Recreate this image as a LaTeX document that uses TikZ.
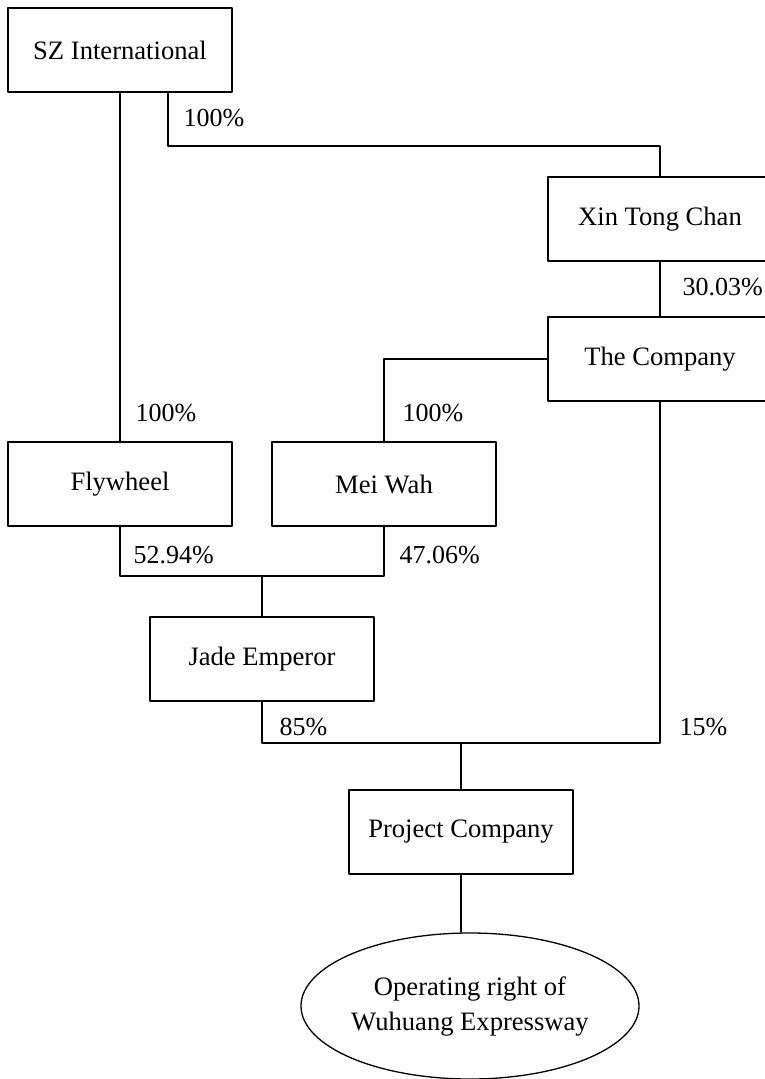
\documentclass[tikz,border=0pt]{standalone}
\usepackage{fontspec}
\setmainfont{Liberation Serif}
\usetikzlibrary{shapes.geometric}
\begin{document}
\begin{tikzpicture}[x=0.5pt,y=-0.5pt,line join=round,line width=0.65pt,
	box/.style={draw,minimum width=112pt,minimum height=42pt,inner sep=0pt,font=\fontsize{13.3}{16}\selectfont},
	pct/.style={anchor=west,inner sep=0pt,font=\fontsize{13}{16}\selectfont}]
	\useasboundingbox (0,0) rectangle (764,1079);
	\node[box] (sz) at (120,50) {SZ International};
	\node[box] (xtc) at (660,219) {Xin Tong Chan};
	\node[box] (comp) at (660,359) {The Company};
	\node[box] (fly) at (120,484) {Flywheel};
	\node[box] (mw) at (384,484) {Mei Wah};
	\node[box] (jade) at (262,659) {Jade Emperor};
	\node[box] (proj) at (461,832) {Project Company};
	\node[draw,ellipse,minimum width=169pt,minimum height=73pt,inner sep=0pt,align=center,font=\fontsize{13.3}{17.5}\selectfont] (road) at (470,1006) {Operating right of\\Wuhuang Expressway};
	\coordinate (k0) at (168,146);
	\coordinate (k1) at (262,576);
	\coordinate (k2) at (461,743);
	\draw (sz) -- (fly);
	\draw ([xshift=24pt]sz.south) -- (k0) -| (xtc.north);
	\draw (xtc) -- (comp);
	\draw (comp.west) -| (mw.north);
	\draw (fly.south) |- (k1) -| (mw.south);
	\draw (k1) -- (jade.north);
	\draw (jade.south) |- (k2) -| (comp.south);
	\draw (k2) -- (proj.north);
	\draw (proj.south) -- (proj.south |- road.north);
	\node[pct] (p1) at (183,118) {100\%};
	\node[pct] (p2) at (682,287) {30.03\%};
	\node[pct] (p3) at (135,413) {100\%};
	\node[pct] (p4) at (402,413) {100\%};
	\node[pct] (p5) at (133,555) {52.94\%};
	\node[pct] (p6) at (399,555) {47.06\%};
	\node[pct] (p7) at (279,727) {85\%};
	\node[pct] (p8) at (679,727) {15\%};
\end{tikzpicture}
\end{document}
